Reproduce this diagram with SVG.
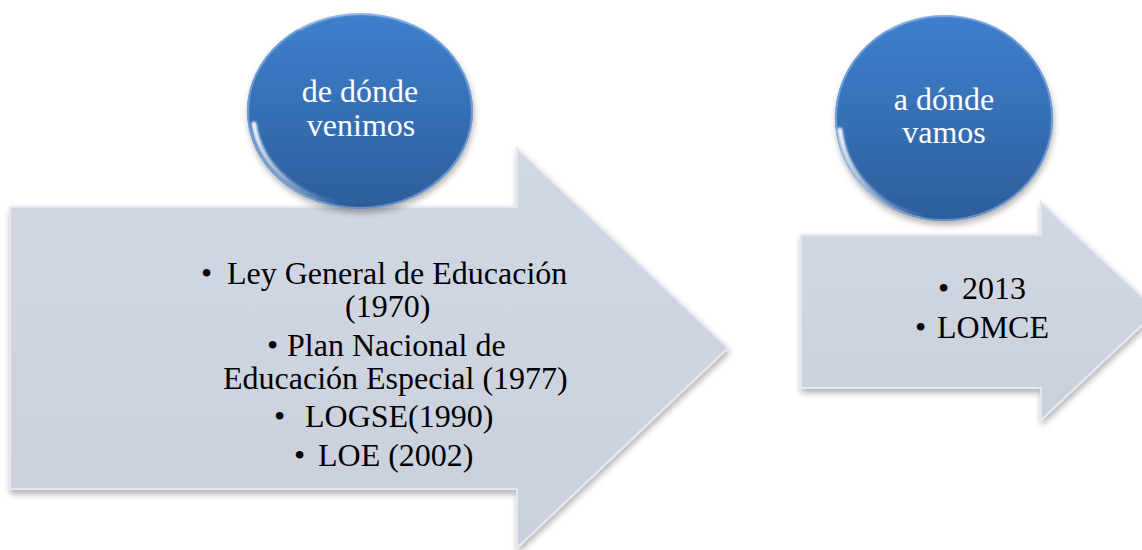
<svg xmlns="http://www.w3.org/2000/svg" width="1142" height="550" viewBox="0 0 1142 550">
<defs>
<linearGradient id="arrowFill" x1="0" y1="0" x2="0" y2="1">
<stop offset="0" stop-color="#d2d8e3"/>
<stop offset="1" stop-color="#c9d0dc"/>
</linearGradient>
<linearGradient id="circFill" x1="0" y1="0" x2="0" y2="1">
<stop offset="0" stop-color="#3f7fcc"/>
<stop offset="0.5" stop-color="#3670b6"/>
<stop offset="1" stop-color="#2d5d9b"/>
</linearGradient>
<linearGradient id="gloss" x1="0" y1="0" x2="1" y2="1">
<stop offset="0" stop-color="#ffffff" stop-opacity="0.95"/>
<stop offset="1" stop-color="#ffffff" stop-opacity="0.05"/>
</linearGradient>
<filter id="shadow" x="-10%" y="-10%" width="125%" height="130%">
<feDropShadow dx="1" dy="4" stdDeviation="3" flood-color="#000" flood-opacity="0.3"/>
</filter>
<filter id="soft" x="-20%" y="-20%" width="140%" height="140%">
<feGaussianBlur stdDeviation="1"/>
</filter>
</defs>
<style>
.arrow{fill:url(#arrowFill);stroke:#e4e8f0;stroke-width:2;filter:url(#shadow)}
.circ{fill:url(#circFill);filter:url(#shadow)}
.rim{fill:none;stroke:#8fb6e6;stroke-width:2;opacity:0.6}
.hl{fill:none;stroke:url(#gloss);stroke-width:5;stroke-linecap:round;filter:url(#soft)}
.ct{font-family:"Liberation Serif","Times New Roman",serif;font-size:32px;fill:#ffffff;text-anchor:middle}
.bt{font-family:"Liberation Serif","Times New Roman",serif;font-size:32px;fill:#000000}
</style>
<g id="arrow-past">
<path class="arrow" d="M10,207 L517,207 L517,148 L728,348 L517,548 L517,489 L10,489 Z"/>
<text class="bt" y="284"><tspan x="201">•</tspan><tspan x="227">Ley General de Educación</tspan></text>
<text class="bt" x="345" y="317">(1970)</text>
<text class="bt" y="356"><tspan x="267">•</tspan><tspan x="287">Plan Nacional de</tspan></text>
<text class="bt" x="223" y="389">Educación Especial (1977)</text>
<text class="bt" y="427"><tspan x="274">•</tspan><tspan x="305">LOGSE(1990)</tspan></text>
<text class="bt" y="466"><tspan x="294">•</tspan><tspan x="318">LOE (2002)</tspan></text>
</g>
<g id="arrow-future">
<path class="arrow" d="M801,235 L1041,235 L1041,202 L1157,311 L1041,420 L1041,388 L801,388 Z"/>
<text class="bt" y="299"><tspan x="938">•</tspan><tspan x="962">2013</tspan></text>
<text class="bt" y="338"><tspan x="915">•</tspan><tspan x="937">LOMCE</tspan></text>
</g>
<g id="circle-past">
<ellipse class="circ" cx="360" cy="111" rx="113" ry="98"/>
<ellipse class="rim" cx="360" cy="111" rx="112" ry="97"/>
<path class="hl" d="M254,124 A108,93 0 0 0 335,203"/>
<path class="hl" d="M300,28 A108,93 0 0 1 420,28" opacity="0.5"/>
<text class="ct" x="360" y="102">de dónde</text>
<text class="ct" x="361" y="136">venimos</text>
</g>
<g id="circle-future">
<ellipse class="circ" cx="944" cy="118" rx="109" ry="103"/>
<ellipse class="rim" cx="944" cy="118" rx="108" ry="102"/>
<path class="hl" d="M840,130 A104,99 0 0 0 920,216"/>
<path class="hl" d="M890,28 A104,99 0 0 1 1000,28" opacity="0.5"/>
<text class="ct" x="944" y="110">a dónde</text>
<text class="ct" x="944" y="143">vamos</text>
</g>
</svg>
